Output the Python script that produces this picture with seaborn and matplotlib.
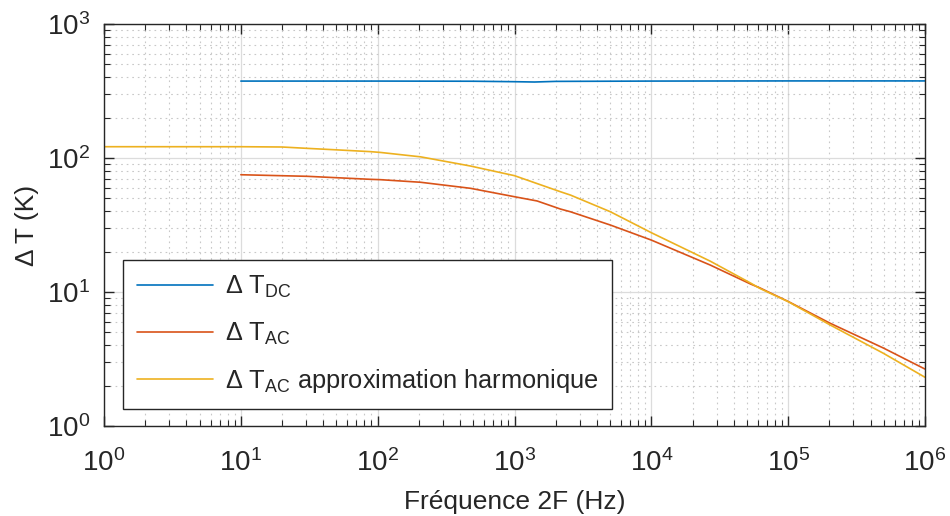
import numpy as np
import pandas as pd
import seaborn as sns
import matplotlib
matplotlib.use('Agg')
import matplotlib.pyplot as plt
from matplotlib.ticker import LogLocator, NullFormatter

# values (log-log)
freq_dc = [10, 100, 500, 1000, 1400, 2000, 1e4, 1e5, 1e6]
dt_dc = [375, 375, 374, 371, 369, 373, 375, 376, 376]

freq_ac = [10, 30.6, 89, 105, 206, 477, 1000, 1462, 2166, 2563, 5020,
           1e4, 26900, 52800, 62500, 1e5, 2.03e5, 4.96e5, 1e6]
dt_ac = [75, 73, 69.3, 68.9, 65.9, 59.4, 51.4, 47.8, 41.6, 39.7, 31.6,
         24.4, 15.9, 11.5, 10.7, 8.5, 5.84, 3.82, 2.66]

freq_harm = [1, 10, 20, 30.6, 48, 89, 105, 206, 477, 1000, 2166, 2563, 5020,
             1e4, 26900, 52800, 62500, 1e5, 2.03e5, 4.96e5, 1e6]
dt_harm = [121.4, 121.4, 120.8, 118, 115.3, 111.5, 110, 102, 87.1, 73.8, 56, 52.9, 39.7,
           27.7, 17.0, 11.7, 10.6, 8.47, 5.67, 3.49, 2.31]

x_ticks = [1, 10, 100, 1e3, 1e4, 1e5, 1e6]
y_ticks = [1, 10, 100, 1e3]

labels = ['Δ T$_{\\mathrm{DC}}$', 'Δ T$_{\\mathrm{AC}}$',
          'Δ T$_{\\mathrm{AC}}$ approximation harmonique']
colors = ['#0072BD', '#D95319', '#EDB120']

sns.set_theme(style='ticks')
plt.rcParams['font.family'] = ['Liberation Sans', 'DejaVu Sans']
plt.rcParams['mathtext.fontset'] = 'custom'
plt.rcParams['mathtext.rm'] = 'Liberation Sans'
plt.rcParams['mathtext.it'] = 'Liberation Sans:italic'

fig = plt.figure(figsize=(9.5, 5.16), dpi=100)
ax = fig.add_axes([0.1095, 0.1744, 0.8642, 0.7791])

series = [(freq_dc, dt_dc), (freq_ac, dt_ac), (freq_harm, dt_harm)]
for (f, t), lab, c in zip(series, labels, colors):
    df = pd.DataFrame({'f': f, 't': t})
    sns.lineplot(data=df, x='f', y='t', ax=ax, color=c, lw=1.2, label=lab)

ax.set_xscale('log')
ax.set_yscale('log')
ax.set_xticks(x_ticks)
ax.set_yticks(y_ticks)
ax.set_xlim(1, 1e6)
ax.set_ylim(1, 1e3)

ax.xaxis.set_minor_locator(LogLocator(base=10, subs=np.arange(2, 10), numticks=20))
ax.yaxis.set_minor_locator(LogLocator(base=10, subs=np.arange(2, 10), numticks=20))
ax.xaxis.set_minor_formatter(NullFormatter())
ax.yaxis.set_minor_formatter(NullFormatter())

ax.grid(True, which='major', color='#dcdcdc', lw=0.9, ls='-')
ax.grid(True, which='minor', color='#c8c8c8', lw=0.8, ls=(0, (1.5, 3.5)))
ax.set_axisbelow(True)

ax.tick_params(which='both', direction='in', top=True, right=True,
               colors='#262626', labelsize=20, labelcolor='#262626')
ax.tick_params(which='major', length=7, width=1)
ax.tick_params(which='minor', length=4, width=0.8)
ax.tick_params(axis='x', which='major', pad=17)
ax.tick_params(axis='y', which='major', pad=10)
for s in ax.spines.values():
    s.set_color('#262626')
    s.set_linewidth(1)

ax.set_xlabel('Fréquence 2F (Hz)', fontsize=19, color='#262626', labelpad=9)
ax.set_ylabel('Δ T (K)', fontsize=19, color='#262626', labelpad=6)

leg = ax.legend(loc='lower left', bbox_to_anchor=(0.023, 0.042), borderaxespad=0,
                fontsize=18.3, frameon=True, fancybox=False, handlelength=3.0,
                handletextpad=0.45, labelspacing=0.8, borderpad=0.55)
leg.get_frame().set_edgecolor('#262626')
leg.get_frame().set_linewidth(1)
leg.get_frame().set_alpha(1)

fig.savefig('out.png', dpi=100)
